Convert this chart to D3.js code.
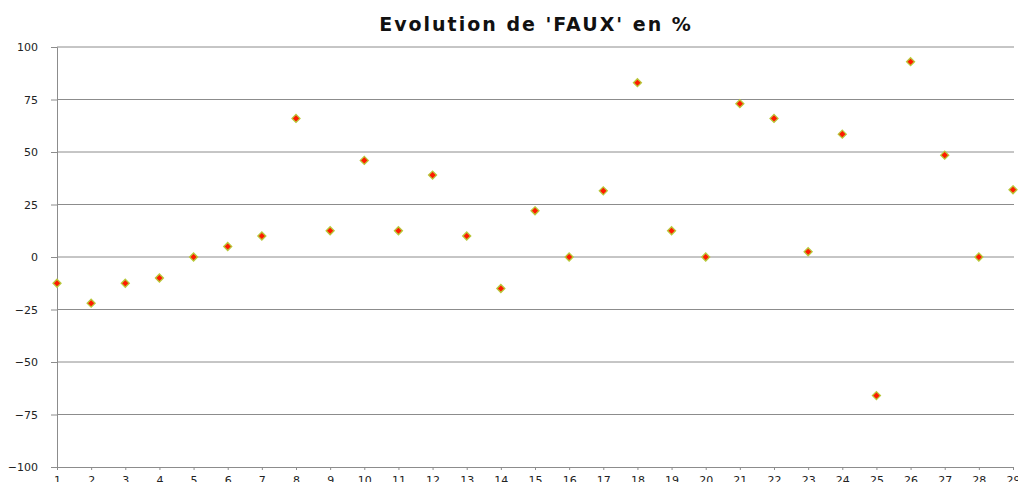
<!DOCTYPE html>
<html>
<head>
<meta charset="utf-8">
<script src="https://cdn.jsdelivr.net/npm/d3@7"></script>
<style>
  body { margin: 0; background: #fff; }
  svg text { font-family: "DejaVu Sans", Arial, sans-serif; }
</style>
</head>
<body>
<div id="container"></div>
<script>
var width = 1018;
var height = 482;
var margin = {left: 57, right: 5, top: 47, bottom: 15};

var days = d3.range(1, 30);
var values = [-12.5, -22, -12.5, -10, 0, 5, 10, 66, 12.5, 46, 12.5, 39, 10, -15, 22,
              0, 31.5, 83, 12.5, 0, 73, 66, 2.5, 58.5, -66, 93, 48.5, 0, 32];
var yTicks = [-100, -75, -50, -25, 0, 25, 50, 75, 100];

var data = days.map(function(d, i) { return {day: d, value: values[i]}; });

var svg = d3.select('#container').append('svg')
    .attr('width', width).attr('height', height);

var xScale = d3.scaleLinear().domain([1, 29]).range([margin.left, 1013]);
var yScale = d3.scaleLinear().domain([-100, 100]).range([467, margin.top]);

// gridlines
svg.append('g').selectAll('line')
    .data(yTicks.filter(function(d) { return d !== -100; }))
    .enter().append('line')
    .attr('x1', margin.left).attr('x2', 1014)
    .attr('y1', function(d) { return yScale(d); })
    .attr('y2', function(d) { return yScale(d); })
    .attr('stroke', '#8c8c8c').attr('stroke-width', 1);

// y axis
var yAxis = svg.append('g')
    .attr('transform', 'translate(' + margin.left + ',0)')
    .call(d3.axisLeft(yScale).tickValues(yTicks).tickSize(6).tickPadding(13));
yAxis.select('.domain').attr('stroke', '#8c8c8c');
yAxis.selectAll('.tick line').attr('stroke', '#8c8c8c');
yAxis.selectAll('text').attr('font-size', 11).attr('fill', '#222')
    .attr('font-family', '"DejaVu Sans", Arial, sans-serif');

// x axis
var xAxis = svg.append('g')
    .attr('transform', 'translate(0,' + yScale(-100) + ')')
    .call(d3.axisBottom(xScale).tickValues(days).tickFormat(d3.format('d'))
        .tickSize(3).tickPadding(6));
xAxis.select('.domain').attr('stroke', '#8c8c8c');
xAxis.selectAll('.tick line').attr('stroke', '#8c8c8c');
xAxis.selectAll('text').attr('font-size', 11).attr('fill', '#222')
    .attr('font-family', '"DejaVu Sans", Arial, sans-serif');

// points
svg.append('g').selectAll('path')
    .data(data)
    .enter().append('path')
    .attr('transform', function(d) {
        return 'translate(' + xScale(d.day) + ',' + yScale(d.value) + ')';
    })
    .attr('d', 'M0,-4L4,0L0,4L-4,0Z')
    .attr('fill', '#ff1a00')
    .attr('stroke', '#b8c83a')
    .attr('stroke-width', 1.3);

// title
svg.append('text')
    .attr('x', 536).attr('y', 31)
    .attr('text-anchor', 'middle')
    .attr('font-size', 19).attr('font-weight', 'bold')
    .attr('letter-spacing', 2)
    .attr('font-family', '"DejaVu Sans", Arial, sans-serif')
    .attr('fill', '#111')
    .text("Evolution de 'FAUX' en %");
</script>
</body>
</html>
